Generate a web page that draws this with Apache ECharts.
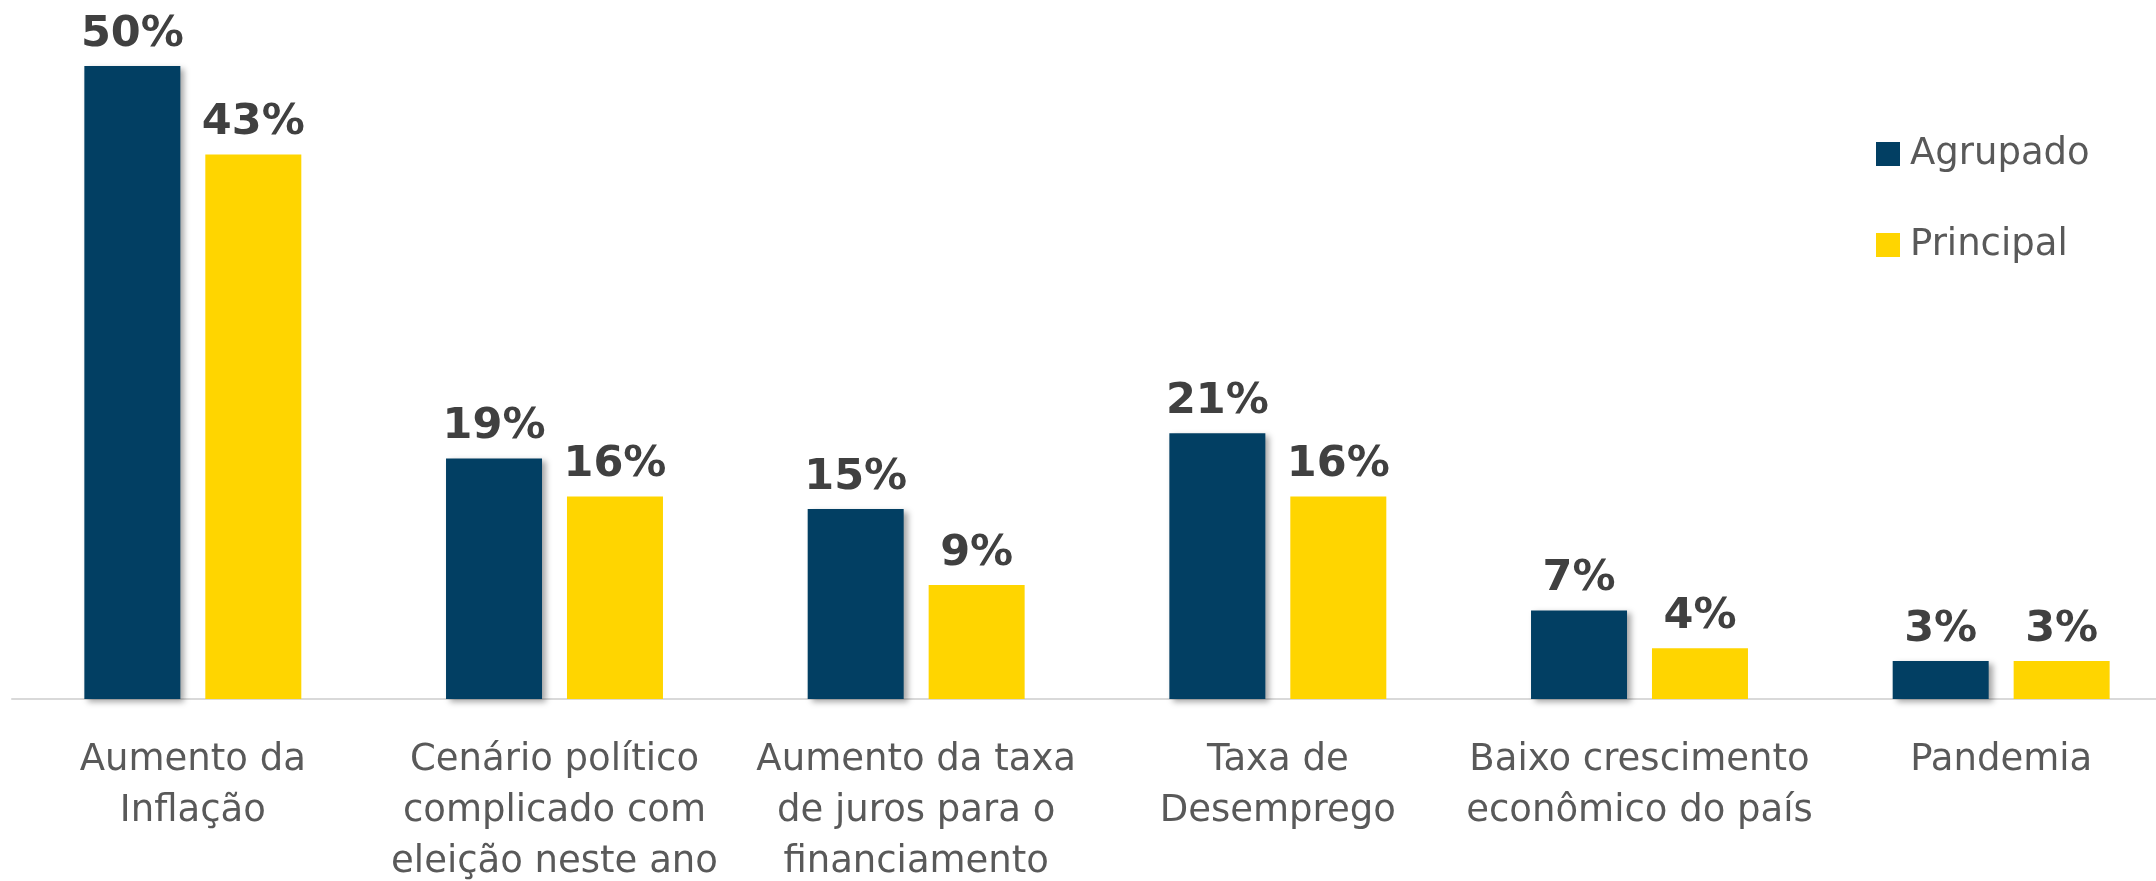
<!DOCTYPE html>
<html>
<head>
<meta charset="utf-8">
<script src="https://cdn.jsdelivr.net/npm/echarts@6/dist/echarts.min.js"></script>
<style>
html,body{margin:0;padding:0;background:#fff;}
#chart{width:2156px;height:881px;}
</style>
</head>
<body>
<div id="chart"></div>
<script>
const categories = [
  "Aumento da\nInflação",
  "Cenário político\ncomplicado com\neleição neste ano",
  "Aumento da taxa\nde juros para o\nfinanciamento",
  "Taxa de\nDesemprego",
  "Baixo crescimento\neconômico do país",
  "Pandemia"
];
const agrupado = [50, 19, 15, 21, 7, 3];
const principal = [43, 16, 9, 16, 4, 3];
const seriesNames = ["Agrupado", "Principal"];

const chart = echarts.init(document.getElementById('chart'));
const labelStyle = {
  show: true,
  position: 'top',
  distance: 10,
  formatter: '{c}%',
  fontFamily: 'DejaVu Sans',
  fontWeight: 'bold',
  fontSize: 43,
  color: '#404040'
};
chart.setOption({
  animation: false,
  backgroundColor: '#ffffff',
  grid: { left: 12, width: 2170, top: 66, bottom: 182, containLabel: false, outerBoundsMode: 'none' },
  legend: {
    orient: 'vertical',
    left: 1876,
    top: 134,
    padding: 0,
    itemWidth: 24,
    itemHeight: 24,
    itemGap: 51,
    icon: 'rect',
    data: seriesNames,
    textStyle: { fontFamily: 'DejaVu Sans', fontSize: 37, lineHeight: 40, color: '#595959', padding: [0,0,0,5] }
  },
  xAxis: {
    type: 'category',
    data: categories,
    axisLine: { lineStyle: { color: '#d9d9d9', width: 2 } },
    axisTick: { show: false },
    axisLabel: {
      interval: 0,
      margin: 36,
      fontFamily: 'DejaVu Sans',
      fontSize: 37,
      lineHeight: 51,
      color: '#595959',
      align: 'center'
    }
  },
  yAxis: { type: 'value', min: 0, max: 50, show: false, splitLine: { show: false } },
  series: [
    {
      name: seriesNames[0], type: 'bar', data: agrupado, barWidth: 96, barGap: '26%',
      itemStyle: { color: '#023F63', shadowColor: 'rgba(0,0,0,0.35)', shadowBlur: 6, shadowOffsetX: 4, shadowOffsetY: 3 },
      label: labelStyle
    },
    {
      name: seriesNames[1], type: 'bar', data: principal, barWidth: 96,
      itemStyle: { color: '#FFD500' },
      label: labelStyle
    }
  ]
});
</script>
</body>
</html>
